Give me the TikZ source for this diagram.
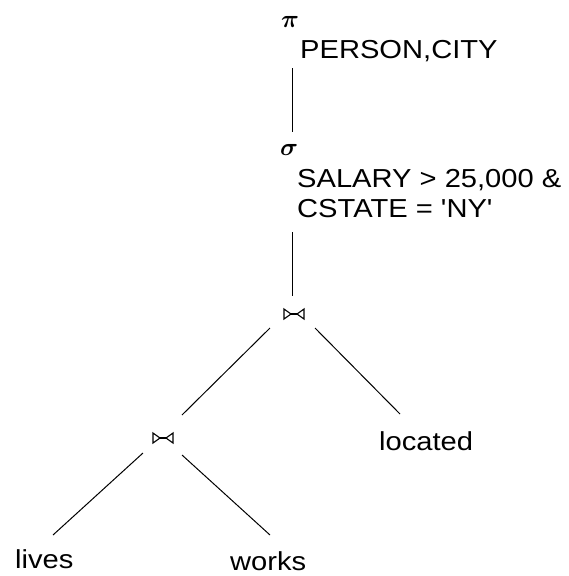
\documentclass[tikz,border=0pt]{standalone}
\usepackage{fontspec}
\setmainfont{Liberation Sans}[FakeStretch=1.12, Ligatures=TeXOff]
\begin{document}
\begin{tikzpicture}[x=1pt,y=-1pt,
  lbl/.style={inner sep=0pt, font=\fontsize{26}{26}\selectfont},
  greek/.style={inner sep=0pt, font=\fontsize{24}{24}\selectfont\boldmath},
  joinop/.style={inner sep=0pt, minimum width=24pt, minimum height=14pt,
    path picture={
      \draw[line width=1.1pt, line join=miter]
        ([shift={(-10,-5)}]path picture bounding box.center) -- ++(0,10) -- ++(7,-5) -- cycle;
      \draw[line width=1.1pt, line join=miter]
        ([shift={(10,-5)}]path picture bounding box.center) -- ++(0,10) -- ++(-7,-5) -- cycle;
      \draw[line width=2.2pt]
        ([shift={(-3,0)}]path picture bounding box.center) -- ++(6,0);
    }},
  edge/.style={line width=1pt, black}]
\useasboundingbox (0,0) rectangle (568,576);
\node[greek] (pi) at (290,22) {$\pi$};
\node[lbl, anchor=base west] (proj) at (300,58) {PERSON,CITY};
\node[greek] (sigma) at (289,150) {$\sigma$};
\node[lbl, anchor=base west] (cond1) at (297,187) {SALARY > 25,000 \&};
\node[lbl, anchor=base west] (cond2) at (297,217) {CSTATE = 'NY'};
\node[joinop] (j1) at (294,314) {};
\node[joinop] (j2) at (163,438) {};
\node[lbl, anchor=base west] (loc) at (379,450) {located};
\node[lbl, anchor=base west] (lives) at (15,568) {lives};
\node[lbl, anchor=base west] (works) at (230,570) {works};
\draw[edge] ([shift={(2,46)}]pi.center) -- ([shift={(3,-18)}]sigma.center);
\draw[edge] ([shift={(3.5,82)}]sigma.center) -- ([shift={(-1.5,-18)}]j1.center);
\draw[edge] ([shift={(-24,14)}]j1.center) -- ([shift={(19,-23)}]j2.center);
\draw[edge] ([shift={(21,14)}]j1.center) -- ([shift={(21,-36)}]loc.base west);
\draw[edge] ([shift={(-20,15)}]j2.center) -- ([shift={(38,-33)}]lives.base west);
\draw[edge] ([shift={(19,17)}]j2.center) -- ([shift={(40,-35)}]works.base west);
\end{tikzpicture}
\end{document}
